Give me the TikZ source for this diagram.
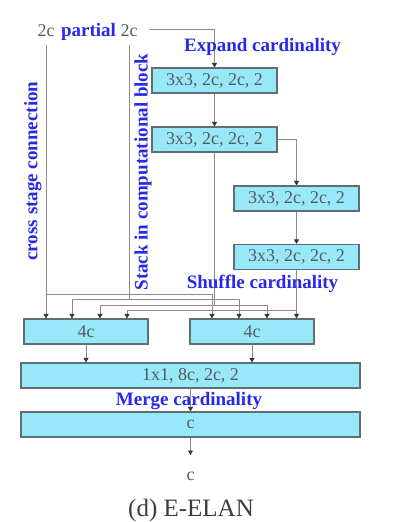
\documentclass[tikz,border=0pt]{standalone}
\usepackage{fontspec}
\setmainfont{Liberation Serif}
\usetikzlibrary{arrows.meta,calc}
\definecolor{boxfill}{RGB}{153,232,250}
\definecolor{boxdraw}{RGB}{95,110,115}
\definecolor{txtgray}{RGB}{85,92,92}
\definecolor{capgray}{RGB}{60,60,60}
\definecolor{lblblue}{RGB}{40,40,235}
\definecolor{linegray}{RGB}{140,140,140}
\definecolor{tipgray}{RGB}{55,55,55}
\begin{document}
\begin{tikzpicture}[x=1pt,y=-1pt,
  blk/.style={draw=boxdraw, line width=1.1pt, fill=boxfill, minimum height=25pt,
              inner sep=0pt, text=txtgray, font=\fontsize{18}{20}\selectfont},
  conn/.style={draw=linegray, line width=0.9pt},
  arr/.style={conn, -{Triangle[width=5pt,length=4.5pt,color=tipgray]}},
  lbl/.style={text=lblblue, font=\bfseries\fontsize{19}{21}\selectfont, inner sep=0pt},
  plain/.style={text=txtgray, font=\fontsize{18}{20}\selectfont, inner sep=0pt}]
\useasboundingbox (0,0) rectangle (411,522);

% top texts
\node[plain, anchor=base] (ta) at (46,36) {2c};
\node[lbl, anchor=base] (tp) at (88.5,36) {partial};
\node[plain, anchor=base] (tb) at (129,36) {2c};

% boxes
\node[blk, minimum width=125pt] (b1) at (214.5,80.5) {3x3, 2c, 2c, 2};
\node[blk, minimum width=125pt] (b2) at (214.5,139.5) {3x3, 2c, 2c, 2};
\node[blk, minimum width=125pt] (b3) at (296.5,198.5) {3x3, 2c, 2c, 2};
\node[blk, minimum width=125pt] (b4) at (296.5,257) {3x3, 2c, 2c, 2};
\node[blk, minimum width=124pt] (L) at (86,331.5) {4c};
\node[blk, minimum width=124pt] (R) at (252,331.5) {4c};
\node[blk, minimum width=339pt] (M) at (190.5,375.5) {1x1, 8c, 2c, 2};
\node[blk, minimum width=339pt] (C) at (190.5,424.5) {c};

% helper coordinates
\coordinate (inp) at (150,29);
\coordinate (cs) at ([yshift=-9pt]ta.base);
\coordinate (st) at ([yshift=-9pt]tb.base);
\coordinate (r1) at (0,294);
\coordinate (r2) at (0,299);
\coordinate (r3) at (0,305);
\coordinate (r4) at (0,310);
\coordinate (l1) at (46,0);
\coordinate (l2) at (72,0);
\coordinate (l3) at (100,0);
\coordinate (l4) at (127,0);
\coordinate (q1) at (212,0);
\coordinate (q2) at (239,0);
\coordinate (q3) at (267,0);
\coordinate (q4) at (296.5,0);
\coordinate (out) at (190.5,455);

% main chain
\draw[arr] (inp) -| (b1.north);
\draw[arr] (b1) -- (b2);
\draw[arr] (b2.east) -| (b3.north);
\draw[arr] (b3) -- (b4);

% cross stage connection
\draw[arr] (cs) -- (l1 |- L.north);
\draw[arr] (cs |- r1) -| (q1 |- R.north);
% stack
\draw[arr] (st) |- (l2 |- r2) -- (l2 |- L.north);
\draw[arr] (st |- r2) -| (q2 |- R.north);
% block 2 output
\draw[arr] (b2.south) |- (l3 |- r3) -- (l3 |- L.north);
\draw[arr] (b2.south |- r3) -| (q3 |- R.north);
% block 4 output
\draw[arr] (b4.south) |- (l4 |- r4) -- (l4 |- L.north);
\draw[arr] (b4.south |- r4) -| (q4 |- R.north);

% merge
\draw[arr] (L.south) -- (L.south |- M.north);
\draw[arr] (R.south) -- (R.south |- M.north);
\draw[arr] (M.south) -- (C.north);
\draw[arr] (C.south) -- (out);

\node[plain] (oc) at (190.5,476) {c};
\node[plain, text=capgray, font=\fontsize{25}{28}\selectfont] (cap) at (191,510) {(d) E-ELAN};

% blue labels
\node[lbl, anchor=base] (ex) at (262.5,51) {Expand cardinality};
\node[lbl, anchor=base] (sh) at (262.5,288) {Shuffle cardinality};
\node[lbl, anchor=base] (mg) at (189,405) {Merge cardinality};
\node[lbl, rotate=90] (csc) at (33,171) {cross stage connection};
\node[lbl, rotate=90] (sic) at (143,172) {Stack in computational block};
\end{tikzpicture}
\end{document}
